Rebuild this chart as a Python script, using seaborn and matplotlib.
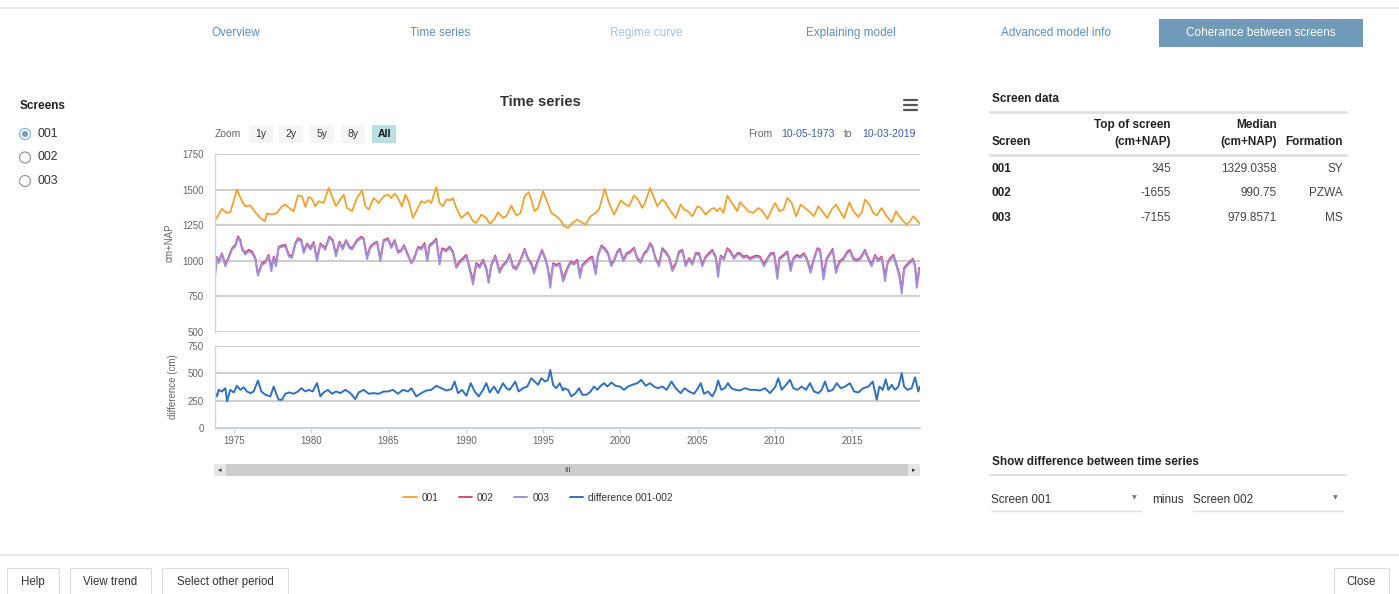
import matplotlib
matplotlib.use("Agg")
import matplotlib.pyplot as plt
from matplotlib.patches import Rectangle, Ellipse
from matplotlib.lines import Line2D
import seaborn as sns

# ---------------------------------------------------------------- data
years_001 = [
    1973.79, 1974.22, 1974.55, 1974.76, 1975.19, 1975.52, 1975.73, 1976.06, 1976.38, 1976.70,
    1976.99, 1977.14, 1977.46, 1977.78, 1978.11, 1978.32, 1978.65, 1978.86, 1979.14, 1979.40,
    1979.62, 1979.83, 1980.05, 1980.26, 1980.48, 1980.80, 1981.13, 1981.34, 1981.60, 1981.88,
    1982.10, 1982.31, 1982.64, 1982.96, 1983.29, 1983.50, 1983.72, 1984.04, 1984.36, 1984.69,
    1984.97, 1985.18, 1985.40, 1985.61, 1985.87, 1986.09, 1986.30, 1986.58, 1986.80, 1987.12,
    1987.34, 1987.56, 1987.77, 1988.09, 1988.31, 1988.53, 1988.74, 1989.02, 1989.17, 1989.39,
    1989.71, 1990.14, 1990.47, 1990.68, 1991.01, 1991.33, 1991.55, 1991.83, 1992.09, 1992.41,
    1992.63, 1992.95, 1993.27, 1993.55, 1993.81, 1994.07, 1994.24, 1994.46, 1994.68, 1995.00,
    1995.21, 1995.54, 1995.86, 1996.19,
    1996.36, 1996.62, 1996.90, 1997.22, 1997.55, 1997.76, 1998.08, 1998.41, 1998.62, 1998.78,
    1998.99, 1999.27, 1999.60, 1999.81, 2000.03, 2000.35, 2000.57, 2000.89, 2001.15, 2001.43,
    2001.64, 2001.93, 2002.14, 2002.40, 2002.72, 2002.94, 2003.26, 2003.59, 2003.91, 2004.13,
    2004.38, 2004.67, 2004.99, 2005.21, 2005.53, 2005.85, 2006.07, 2006.28, 2006.46, 2006.67,
    2006.93, 2007.15, 2007.36, 2007.58,
    2007.75, 2008.01, 2008.29, 2008.61, 2008.94, 2009.22, 2009.52, 2009.80, 2010.02, 2010.30,
    2010.56, 2010.81, 2011.10, 2011.38, 2011.68, 2011.96, 2012.28, 2012.54, 2012.82, 2013.15,
    2013.40, 2013.68, 2013.96, 2014.22, 2014.48, 2014.83, 2015.09, 2015.41, 2015.63, 2015.84,
    2016.12, 2016.38, 2016.60, 2016.92, 2017.24, 2017.57, 2017.85, 2018.06, 2018.32, 2018.54,
    2018.75, 2018.97, 2019.19, 2019.40,
]
level_001 = [
    1285, 1364, 1336, 1341, 1500, 1418, 1383, 1388, 1341, 1301,
    1278, 1332, 1325, 1336, 1383, 1395, 1364, 1348, 1458, 1453,
    1378, 1449, 1434, 1383, 1418, 1406, 1512, 1453, 1383, 1430,
    1465, 1371, 1348, 1441, 1495, 1383, 1360, 1441, 1406, 1453,
    1465, 1441, 1472, 1441, 1383, 1465, 1418, 1301, 1348, 1418,
    1406, 1425, 1406, 1519, 1406, 1383, 1430, 1425, 1441, 1371,
    1301, 1341, 1278, 1266, 1324, 1301, 1259, 1289, 1341, 1301,
    1313, 1388, 1318, 1336, 1453, 1481, 1430, 1348, 1371, 1488,
    1430, 1336, 1313, 1278,
    1243, 1231, 1266, 1289, 1266, 1254, 1313, 1336, 1360, 1418,
    1505, 1406, 1324, 1371, 1425, 1395, 1383, 1458, 1430, 1371,
    1418, 1512, 1453, 1383, 1430, 1406, 1348, 1301, 1395, 1360,
    1348, 1313, 1383, 1371, 1324, 1360, 1371, 1348, 1371, 1336,
    1458, 1418, 1383, 1348,
    1411, 1383, 1348, 1336, 1371, 1348, 1294, 1360, 1406, 1348,
    1360, 1441, 1406, 1313, 1395, 1371, 1341, 1313, 1383, 1336,
    1301, 1360, 1395, 1348, 1301, 1411, 1348, 1308, 1341, 1430,
    1395, 1336, 1318, 1371, 1313, 1271, 1348, 1313, 1278, 1254,
    1278, 1313, 1285, 1261,
]

# screens 002 and 003 share their measurement dates
years_deep = [
    1973.79, 1973.90, 1974.01, 1974.22, 1974.44, 1974.66, 1974.87, 1975.09, 1975.26, 1975.41,
    1975.52, 1975.73, 1975.95, 1976.17, 1976.38, 1976.55, 1976.81, 1977.03, 1977.24, 1977.42,
    1977.57, 1977.72, 1977.89, 1978.11, 1978.32, 1978.54, 1978.75, 1978.97, 1979.14, 1979.36,
    1979.51, 1979.73, 1979.94, 1980.16, 1980.37, 1980.59, 1980.91, 1981.17, 1981.39, 1981.60,
    1981.82, 1982.03, 1982.25, 1982.47, 1982.64, 1982.96, 1983.24, 1983.39, 1983.61, 1983.82,
    1984.04, 1984.26, 1984.47, 1984.69,
    1984.97, 1985.18, 1985.40, 1985.61, 1985.83, 1986.00, 1986.22, 1986.48, 1986.69, 1986.91,
    1987.12, 1987.34, 1987.51, 1987.66, 1987.88, 1988.09, 1988.31, 1988.46, 1988.74, 1988.96,
    1989.17, 1989.39, 1989.60, 1989.82, 1990.04, 1990.25, 1990.47, 1990.68, 1990.90, 1991.12,
    1991.33, 1991.48, 1991.65, 1991.91, 1992.19, 1992.41, 1992.63, 1992.84, 1993.06, 1993.27,
    1993.49, 1993.81, 1994.03, 1994.24, 1994.42, 1994.68, 1994.93, 1995.15, 1995.32, 1995.47,
    1995.65, 1995.86, 1996.08, 1996.29,
    1996.36, 1996.57, 1996.79, 1997.01, 1997.22, 1997.39, 1997.55, 1997.76, 1997.98, 1998.19,
    1998.41, 1998.56, 1998.78, 1998.99, 1999.21, 1999.42, 1999.60, 1999.81, 1999.98, 2000.20,
    2000.42, 2000.63, 2000.89, 2001.11, 2001.32, 2001.54, 2001.75, 2001.93, 2002.08, 2002.29,
    2002.51, 2002.72, 2002.94, 2003.15, 2003.37, 2003.59, 2003.80, 2004.02, 2004.23, 2004.45,
    2004.67, 2004.88, 2005.10, 2005.31, 2005.53, 2005.74, 2005.96, 2006.18, 2006.33, 2006.50,
    2006.71, 2006.93, 2007.15, 2007.36, 2007.58,
    2007.75, 2007.97, 2008.18, 2008.40, 2008.61, 2008.83, 2009.05, 2009.30, 2009.52, 2009.74,
    2009.95, 2010.17, 2010.30, 2010.56, 2010.81, 2011.03, 2011.20, 2011.42, 2011.63, 2011.89,
    2012.07, 2012.32, 2012.54, 2012.76, 2012.93, 2013.15, 2013.36, 2013.58, 2013.75, 2013.96,
    2014.18, 2014.44, 2014.70, 2014.87, 2015.09, 2015.30, 2015.52, 2015.84, 2016.06, 2016.27,
    2016.49, 2016.70, 2016.92, 2017.14, 2017.29, 2017.46, 2017.68, 2017.85, 2018.06, 2018.22,
    2018.37, 2018.54, 2018.75, 2018.93, 2019.08, 2019.19, 2019.36, 2019.40,
]
level_002 = [
    930, 1028, 995, 1052, 975, 1030, 1088, 1112, 1172, 1145,
    1088, 1055, 1078, 1064, 1022, 905, 985, 995, 1042, 950,
    1030, 985, 1098, 1108, 1112, 1045, 1030, 1124, 1160, 1146,
    1068, 1122, 1090, 1132, 1012, 1122, 1090, 1170, 1146, 1045,
    1135, 1090, 1146, 1100, 1088, 1146, 1170, 1158, 1030, 1100,
    1122, 1134, 1015, 1146,
    1158, 1100, 1146, 1066, 1076, 1110, 1055, 985, 1030, 1098,
    1090, 1125, 1010, 1112, 1130, 1155, 990, 1088, 1076, 1100,
    1066, 960, 995, 1018, 1042, 950, 862, 985, 962, 1008,
    950, 855, 972, 1037, 930, 972, 995, 1046, 962, 950,
    995, 1084, 1018, 985, 930, 1008, 1077, 1018, 950, 840,
    983, 972, 983, 880,
    890, 950, 995, 983, 1007, 905, 972, 995, 1018, 1030,
    925, 1042, 1108, 1089, 1054, 975, 1007, 1065, 1084, 1008,
    1054, 1065, 1092, 1018, 995, 1054, 1077, 1124, 1100, 1018,
    975, 1089, 1065, 1030, 945, 983, 1065, 1077, 975, 1018,
    983, 1054, 1054, 975, 1030, 1054, 1077, 1030, 915, 1037,
    1018, 1089, 1065, 1023, 1054,
    1054, 1030, 1037, 1018, 1030, 1037, 1030, 975, 1018, 1054,
    1054, 905, 1018, 1042, 1065, 950, 1018, 1042, 1030, 1054,
    1018, 935, 1018, 1089, 1077, 900, 1018, 1054, 1084, 935,
    995, 1018, 1065, 1077, 1018, 1007, 1018, 1077, 1018, 975,
    1042, 1007, 1030, 890, 983, 1018, 1042, 985, 910, 800,
    950, 972, 995, 1014, 972, 840, 950, 925,
]
level_003 = [
    903, 1020, 985, 1044, 962, 1020, 1079, 1102, 1161, 1137,
    1079, 1044, 1067, 1055, 1013, 896, 973, 985, 1032, 927,
    1020, 962, 1090, 1098, 1102, 1032, 1020, 1114, 1149, 1137,
    1055, 1114, 1079, 1121, 997, 1114, 1079, 1161, 1137, 1032,
    1126, 1079, 1137, 1090, 1079, 1137, 1161, 1149, 1013, 1090,
    1114, 1126, 997, 1137,
    1149, 1090, 1137, 1055, 1067, 1102, 1044, 981, 1020, 1090,
    1079, 1114, 997, 1102, 1121, 1144, 973, 1079, 1067, 1090,
    1055, 950, 985, 1008, 1032, 938, 833, 973, 950, 997,
    938, 845, 962, 1027, 915, 962, 985, 1037, 950, 938,
    985, 1074, 1008, 973, 910, 997, 1067, 1008, 938, 810,
    973, 962, 973, 857,
    868, 938, 985, 973, 997, 880, 962, 985, 1008, 1020,
    903, 1032, 1098, 1079, 1044, 962, 997, 1055, 1074, 997,
    1044, 1055, 1083, 1008, 985, 1044, 1067, 1114, 1090, 1008,
    962, 1079, 1055, 1020, 927, 973, 1055, 1067, 962, 1008,
    973, 1044, 1044, 962, 1020, 1044, 1067, 1020, 887, 1027,
    1008, 1079, 1055, 1013, 1044,
    1044, 1020, 1027, 1008, 1020, 1027, 1020, 962, 1008, 1044,
    1044, 873, 1008, 1032, 1055, 927, 1008, 1032, 1020, 1044,
    1008, 915, 1008, 1079, 1067, 868, 1008, 1044, 1074, 915,
    985, 1008, 1055, 1067, 1008, 997, 1008, 1067, 1008, 962,
    1032, 997, 1020, 857, 973, 1008, 1032, 973, 892, 770,
    938, 962, 985, 1004, 962, 810, 938, 915,
]

years_diff = [
    1973.79, 1973.90, 1974.01, 1974.22, 1974.44, 1974.55, 1974.76, 1974.98, 1975.19, 1975.41,
    1975.63, 1975.84, 1976.06, 1976.27, 1976.55, 1976.77, 1977.03, 1977.35, 1977.57, 1977.72,
    1977.89, 1978.11, 1978.32, 1978.58, 1978.86, 1979.14, 1979.36, 1979.62, 1979.83, 1980.09,
    1980.37, 1980.59, 1980.80, 1981.08, 1981.34, 1981.60, 1981.88, 1982.21, 1982.53, 1982.85,
    1983.07, 1983.39, 1983.72, 1984.04, 1984.36, 1984.69,
    1984.97, 1985.29, 1985.61, 1985.94, 1986.26, 1986.48, 1986.80, 1987.12, 1987.45, 1987.77,
    1988.09, 1988.42, 1988.74, 1989.07, 1989.28, 1989.50, 1989.76, 1990.04, 1990.32, 1990.58,
    1990.84, 1991.12, 1991.33, 1991.55, 1991.83, 1992.09, 1992.41, 1992.63, 1992.84, 1993.21,
    1993.42, 1993.70, 1993.98, 1994.24, 1994.46, 1994.68, 1994.89, 1995.15, 1995.32, 1995.47,
    1995.65, 1995.86, 1996.08, 1996.29,
    1996.36, 1996.62, 1996.83, 1997.11, 1997.33, 1997.55, 1997.83, 1998.08, 1998.30, 1998.52,
    1998.73, 1998.95, 1999.16, 1999.42, 1999.70, 1999.98, 2000.24, 2000.50, 2000.78, 2001.11,
    2001.36, 2001.64, 2001.93, 2002.18, 2002.44, 2002.72, 2003.00, 2003.31, 2003.59, 2003.91,
    2004.17, 2004.45, 2004.77, 2005.03, 2005.21, 2005.42, 2005.68, 2005.96, 2006.18, 2006.33,
    2006.54, 2006.76, 2006.97, 2007.19, 2007.47,
    2007.75, 2008.07, 2008.40, 2008.72, 2009.05, 2009.37, 2009.69, 2010.02, 2010.23, 2010.45,
    2010.73, 2010.99, 2011.20, 2011.46, 2011.74, 2012.02, 2012.28, 2012.54, 2012.82, 2013.04,
    2013.25, 2013.47, 2013.75, 2014.01, 2014.27, 2014.55, 2014.87, 2015.13, 2015.41, 2015.73,
    2016.06, 2016.34, 2016.60, 2016.77, 2016.99, 2017.18, 2017.35, 2017.57, 2017.78, 2018.00,
    2018.22, 2018.37, 2018.58, 2018.86, 2019.08, 2019.29, 2019.40,
]
diff_001_002 = [
    319, 289, 349, 334, 364, 244, 349, 325, 386, 349,
    373, 334, 319, 334, 434, 334, 304, 289, 379, 319,
    259, 259, 313, 325, 313, 334, 364, 334, 349, 334,
    410, 289, 325, 349, 313, 334, 319, 349, 319, 265,
    325, 349, 313, 319, 313, 334,
    334, 349, 313, 349, 334, 364, 289, 319, 343, 349,
    386, 364, 343, 355, 425, 319, 349, 295, 410, 334,
    289, 349, 410, 325, 379, 319, 410, 364, 349, 425,
    334, 364, 379, 455, 425, 395, 455, 425, 440, 530,
    395, 364, 410, 343,
    364, 349, 289, 319, 364, 304, 304, 334, 379, 349,
    386, 410, 379, 416, 386, 379, 349, 379, 395, 410,
    440, 386, 410, 379, 364, 379, 349, 425, 364, 319,
    364, 334, 313, 364, 410, 313, 334, 289, 349, 434,
    349, 364, 410, 364, 349,
    343, 364, 349, 349, 343, 364, 319, 373, 455, 349,
    395, 440, 364, 349, 379, 349, 410, 334, 319, 349,
    425, 334, 349, 410, 364, 379, 410, 334, 325, 364,
    379, 425, 259, 379, 349, 446, 349, 395, 349, 379,
    500, 379, 349, 364, 464, 334, 379,
]

year_ticks = [1975, 1980, 1985, 1990, 1995, 2000, 2005, 2010, 2015]
level_ticks = [500, 750, 1000, 1250, 1500, 1750]
diff_ticks = [0, 250, 500, 750]

screen_ids = ["001", "002", "003"]
top_of_screen = ["345", "-1655", "-7155"]
median_level = ["1329.0358", "990.75", "979.8571"]
formation = ["SY", "PZWA", "MS"]

nav_tabs = ["Overview", "Time series", "Regime curve", "Explaining model", "Advanced model info"]
zoom_buttons = ["1y", "2y", "5y", "8y", "All"]

# ---------------------------------------------------------------- style
sns.set_theme(style="white")
plt.rcParams["font.family"] = ["Liberation Sans", "DejaVu Sans"]

C001, C002, C003, CDIFF = "#f0a22e", "#d9406a", "#a28fdc", "#2f70c1"
GRID = "#c6c6c6"
AXIS = "#ccd6eb"
TXT = "#333333"
SUB = "#666666"
NAV = "#5e8fbb"
NAV_DIM = "#a9c5dc"
RULE = "#e0e0e0"

W, H = 1399, 594
fig = plt.figure(figsize=(W / 100, H / 100), dpi=100)
fig.patch.set_facecolor("white")


def fx(x):
    return x / W


def fy(y):
    return 1 - y / H


def put(x, y, s, **kw):
    kw.setdefault("va", "center")
    kw.setdefault("color", TXT)
    fig.text(fx(x), fy(y), s, **kw)


def hline(x0, x1, y, color=RULE, lw=1.0):
    fig.add_artist(Line2D([fx(x0), fx(x1)], [fy(y), fy(y)], color=color, lw=lw,
                          transform=fig.transFigure))


def box(x0, y0, x1, y1, fc, ec="none", lw=0.8):
    fig.add_artist(Rectangle((fx(x0), fy(y1)), (x1 - x0) / W, (y1 - y0) / H,
                             facecolor=fc, edgecolor=ec, lw=lw, transform=fig.transFigure))


def axes_box(x0, y0, x1, y1):
    return fig.add_axes([fx(x0), fy(y1), (x1 - x0) / W, (y1 - y0) / H])


# ---------------------------------------------------------------- page chrome
hline(0, W, 8, color="#e6e6e6", lw=1.2)
nav_x = [236, 440, 646, 851, 1056]
for name, x in zip(nav_tabs, nav_x):
    put(x, 33, name, ha="center", fontsize=8.5, color=NAV_DIM if name == "Regime curve" else NAV)
box(1159, 19, 1363, 47, fc="#6f9bb8")
put(1261, 33, "Coherance between screens", ha="center", fontsize=8.5, color="white")

put(20, 106, "Screens", ha="left", fontsize=8.5, fontweight="bold", color="#222222")
for i, sid in enumerate(screen_ids):
    y = 134 + i * 23.5
    sel = i == 0
    fig.add_artist(Ellipse((fx(25), fy(y)), 11 / W, 11 / H, facecolor="white",
                           edgecolor="#8fb2d2" if sel else "#9a9a9a", lw=0.9,
                           transform=fig.transFigure))
    if sel:
        fig.add_artist(Ellipse((fx(25), fy(y)), 6 / W, 6 / H, facecolor="#6f9dc9",
                               edgecolor="none", transform=fig.transFigure))
    put(37, y, sid, ha="left", fontsize=8.8)

# chart header
put(540, 102, "Time series", ha="center", fontsize=10.5, fontweight="bold")
for dy in (-5, 0, 5):
    hline(904, 917, 105 + dy, color="#555555", lw=1.6)
put(228, 134, "Zoom", ha="center", fontsize=7.5, color=SUB)
for label, x in zip(zoom_buttons, [261, 291, 322, 353, 384]):
    active = label == "All"
    box(x - 12, 125, x + 12, 143, fc="#b8dfe1" if active else "#f5f5f5")
    put(x, 134, label, ha="center", fontsize=7.5, color="#111111" if active else TXT,
        fontweight="bold" if active else "normal")
put(760, 134, "From", ha="center", fontsize=7.5, color=SUB)
put(808, 134, "10-05-1973", ha="center", fontsize=7.5, color="#3a5fa8")
put(848, 134, "to", ha="center", fontsize=7.5, color=SUB)
put(889, 134, "10-03-2019", ha="center", fontsize=7.5, color="#3a5fa8")

# ---------------------------------------------------------------- plots
XMIN, XMAX = 1973.77, 2019.40
ax_top = axes_box(215, 154, 920, 332)
ax_bot = axes_box(215, 346, 920, 428)

sns.lineplot(x=years_001, y=level_001, ax=ax_top, color=C001, lw=1.3, label="001", legend=False)
sns.lineplot(x=years_deep, y=level_002, ax=ax_top, color=C002, lw=1.3, label="002", legend=False)
sns.lineplot(x=years_deep, y=level_003, ax=ax_top, color=C003, lw=1.4, label="003", legend=False)
sns.lineplot(x=years_diff, y=diff_001_002, ax=ax_bot, color=CDIFF, lw=1.4,
             label="difference 001-002", legend=False)

for ax, lim, ticks in ((ax_top, (500, 1750), level_ticks), (ax_bot, (0, 750), diff_ticks)):
    ax.set_xlim(XMIN, XMAX)
    ax.set_ylim(*lim)
    ax.set_yticks(ticks)
    ax.set_facecolor("none")
    ax.set_axisbelow(True)
    ax.grid(axis="y", color=GRID, lw=1.2)
    ax.grid(axis="x", visible=False)
    for side in ("top", "right", "bottom"):
        ax.spines[side].set_visible(False)
    ax.spines["left"].set_color(AXIS)
    ax.spines["left"].set_linewidth(1.0)
    ax.tick_params(axis="y", length=0, pad=8, labelsize=7, labelcolor=SUB)
    ax.set_xlabel("")
    ax.set_ylabel("")

ax_top.set_xticks([])
ax_bot.set_xticks(year_ticks)
ax_bot.set_xticklabels([str(y) for y in year_ticks])
ax_bot.spines["bottom"].set_visible(True)
ax_bot.spines["bottom"].set_color(AXIS)
ax_bot.spines["bottom"].set_linewidth(1.0)
ax_bot.tick_params(axis="x", bottom=True, length=3.6, width=0.8, color=AXIS, pad=2.5,
                   labelsize=7, labelcolor=SUB)

put(170, 243, "cm+NAP", ha="center", rotation=90, fontsize=7, color=SUB)
put(173, 387, "difference (cm)", ha="center", rotation=90, fontsize=7, color=SUB)

# navigator scrollbar
box(214, 464, 920, 476, fc="#f2f2f2")
box(226, 464, 908, 476, fc="#cccccc")
box(214, 464, 226, 476, fc="#e6e6e6")
box(908, 464, 920, 476, fc="#e6e6e6")
put(220, 470, "\u25c2", ha="center", fontsize=5, color="#333333", family=["DejaVu Sans"])
put(914, 470, "\u25b8", ha="center", fontsize=5, color="#333333", family=["DejaVu Sans"])
put(567, 470, "III", ha="center", fontsize=5.5, color="#333333")

handles = [ax_top.lines[0], ax_top.lines[1], ax_top.lines[2], ax_bot.lines[0]]
fig.legend(handles, [h.get_label() for h in handles], loc="center",
           bbox_to_anchor=(fx(538), fy(498)), ncol=4, frameon=False, fontsize=7.3,
           handlelength=1.3, handletextpad=0.5, columnspacing=2.0, labelcolor=TXT)

# ---------------------------------------------------------------- screen table
BOLD = "#222222"
put(992, 99, "Screen data", ha="left", fontsize=8.5, fontweight="bold", color=BOLD)
hline(990, 1346, 112, lw=2.0)
put(992, 142, "Screen", ha="left", fontsize=8.5, fontweight="bold", color=BOLD)
put(1171, 125, "Top of screen", ha="right", fontsize=8.5, fontweight="bold", color=BOLD)
put(1171, 142, "(cm+NAP)", ha="right", fontsize=8.5, fontweight="bold", color=BOLD)
put(1277, 125, "Median", ha="right", fontsize=8.5, fontweight="bold", color=BOLD)
put(1277, 142, "(cm+NAP)", ha="right", fontsize=8.5, fontweight="bold", color=BOLD)
put(1343, 142, "Formation", ha="right", fontsize=8.5, fontweight="bold", color=BOLD)
hline(990, 1346, 155, lw=2.0)
for i, sid in enumerate(screen_ids):
    y = 169 + i * 24.5
    put(992, y, sid, ha="left", fontsize=8.5, fontweight="bold", color=BOLD)
    put(1171, y, top_of_screen[i], ha="right", fontsize=8.5, color="#444444")
    put(1277, y, median_level[i], ha="right", fontsize=8.5, color="#444444")
    put(1343, y, formation[i], ha="right", fontsize=8.5, color="#444444")

put(992, 462, "Show difference between time series", ha="left", fontsize=8.5,
    fontweight="bold", color=BOLD)
hline(990, 1346, 475, lw=1.5)
put(991, 500, "Screen 001", ha="left", fontsize=8.5, color="#333333")
put(1134, 498, "\u25bc", ha="center", fontsize=4.5, color="#777777", family=["DejaVu Sans"])
hline(991, 1141, 511, lw=1.0)
put(1152, 500, "minus", ha="left", fontsize=8.5, color="#333333")
put(1193, 500, "Screen 002", ha="left", fontsize=8.5, color="#333333")
put(1335, 498, "\u25bc", ha="center", fontsize=4.5, color="#777777", family=["DejaVu Sans"])
hline(1193, 1343, 511, lw=1.0)

# ---------------------------------------------------------------- footer buttons
hline(0, W, 555, color="#e6e6e6", lw=1.2)
for label, x0, x1 in (("Help", 7, 59), ("View trend", 70, 151),
                      ("Select other period", 162, 288), ("Close", 1334, 1389)):
    box(x0, 568, x1, 600, fc="white", ec="#dcdcdc", lw=0.8)
    put((x0 + x1) / 2, 582, label, ha="center", fontsize=8.3, color="#333333")

fig.savefig("out.png", dpi=100, facecolor="white")
